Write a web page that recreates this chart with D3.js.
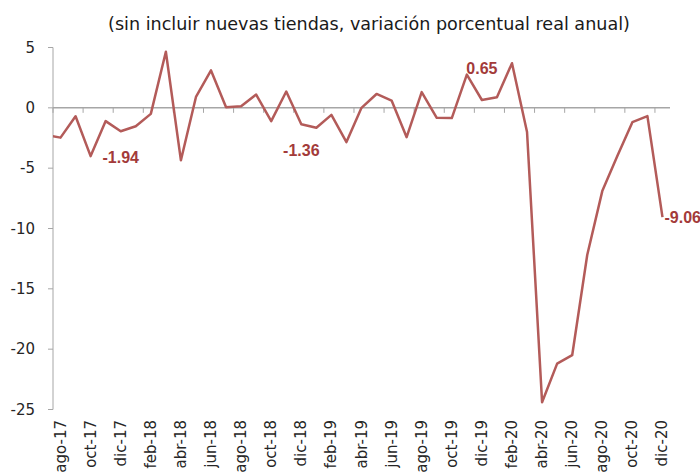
<!DOCTYPE html>
<html>
<head>
<meta charset="utf-8">
<script src="https://cdn.jsdelivr.net/npm/d3@7"></script>
<style>
  body { margin: 0; background: #fff; }
  svg { display: block; }
  text { font-family: "DejaVu Sans", sans-serif; }
</style>
</head>
<body>
<svg id="chart" width="700" height="476"></svg>
<script>
// data: monthly values, jul-17 .. dic-20 (jul-17 sits left of the axis and gets clipped)
const months = [
  "jul-17", "ago-17", "sep-17", "oct-17", "nov-17", "dic-17",
  "ene-18", "feb-18", "mar-18", "abr-18", "may-18", "jun-18",
  "jul-18", "ago-18", "sep-18", "oct-18", "nov-18", "dic-18",
  "ene-19", "feb-19", "mar-19", "abr-19", "may-19", "jun-19",
  "jul-19", "ago-19", "sep-19", "oct-19", "nov-19", "dic-19",
  "ene-20", "feb-20", "mar-20", "abr-20", "may-20", "jun-20",
  "jul-20", "ago-20", "sep-20", "oct-20", "nov-20", "dic-20"
];
const values = [
  -2.25, -2.47, -0.70, -4.00, -1.10, -1.94,
  -1.53, -0.50, 4.65, -4.35, 0.90, 3.10,
  0.05, 0.13, 1.10, -1.10, 1.35, -1.36,
  -1.65, -0.58, -2.84, 0.00, 1.15, 0.60,
  -2.43, 1.30, -0.83, -0.85, 2.75, 0.65,
  0.87, 3.70, -2.00, -24.40, -21.20, -20.50,
  -12.20, -6.90, -4.00, -1.19, -0.69, -9.06
];
const xTickLabels = [
  "ago-17", "oct-17", "dic-17", "feb-18", "abr-18", "jun-18", "ago-18",
  "oct-18", "dic-18", "feb-19", "abr-19", "jun-19", "ago-19", "oct-19",
  "dic-19", "feb-20", "abr-20", "jun-20", "ago-20", "oct-20", "dic-20"
];
const yTicks = [5, 0, -5, -10, -15, -20, -25];
const labelled = ["dic-17", "dic-18", "dic-19", "dic-20"];
const title = "(sin incluir nuevas tiendas, variación porcentual real anual)";

const svg = d3.select("#chart");
const lineColor = "#b35b59";
const labelColor = "#a33b3a";
const axisColor = "#a6a6a6";

// plot area
const plotLeft = 53, plotRight = 670, plotTop = 47.5, plotBottom = 409.5;
const firstCat = months.indexOf("ago-17");

const x = d3.scaleLinear()
  .domain([firstCat - 0.5, months.length - 0.5])
  .range([plotLeft, plotRight]);
const y = d3.scaleLinear().domain([-25, 5]).range([plotBottom, plotTop]);

// title, fitted to the width seen in the reference
const t = svg.append("text")
  .attr("x", 369)
  .attr("y", 30)
  .attr("text-anchor", "middle")
  .attr("fill", "#1a1a1a")
  .style("font-size", "17px")
  .text(title);
const tw = t.node().getComputedTextLength();
t.style("font-size", (17 * 522 / tw).toFixed(2) + "px");

// y axis
svg.append("line")
  .attr("x1", plotLeft).attr("x2", plotLeft)
  .attr("y1", y(5)).attr("y2", y(-25))
  .attr("stroke", axisColor).attr("stroke-width", 1);
yTicks.forEach(v => {
  svg.append("line")
    .attr("x1", plotLeft - 5).attr("x2", plotLeft)
    .attr("y1", y(v)).attr("y2", y(v))
    .attr("stroke", axisColor).attr("stroke-width", 1);
  svg.append("text")
    .attr("x", 35)
    .attr("y", y(v))
    .attr("text-anchor", "end")
    .attr("dominant-baseline", "central")
    .attr("fill", "#262626")
    .style("font-size", "15px")
    .text(v);
});

// x axis along zero, ticks every two months at category boundaries
svg.append("line")
  .attr("x1", plotLeft).attr("x2", plotRight)
  .attr("y1", y(0)).attr("y2", y(0))
  .attr("stroke", axisColor).attr("stroke-width", 1.5);
for (let i = firstCat; i <= months.length; i += 2) {
  svg.append("line")
    .attr("x1", x(i - 0.5)).attr("x2", x(i - 0.5))
    .attr("y1", y(0)).attr("y2", y(0) + 5)
    .attr("stroke", axisColor).attr("stroke-width", 1);
}
xTickLabels.forEach(lbl => {
  const cx = x(months.indexOf(lbl));
  svg.append("text")
    .attr("transform", `translate(${cx},420) rotate(-90)`)
    .attr("text-anchor", "end")
    .attr("dominant-baseline", "central")
    .attr("fill", "#262626")
    .style("font-size", "15px")
    .text(lbl);
});

// line, clipped at the y axis
svg.append("clipPath").attr("id", "plot")
  .append("rect")
  .attr("x", plotLeft).attr("y", 0)
  .attr("width", 700 - plotLeft).attr("height", 476);

const line = d3.line()
  .x((d, i) => x(i))
  .y(d => y(d));

svg.append("path")
  .datum(values)
  .attr("clip-path", "url(#plot)")
  .attr("fill", "none")
  .attr("stroke", lineColor)
  .attr("stroke-width", 2.5)
  .attr("stroke-linejoin", "round")
  .attr("d", line);

// data labels
labelled.forEach((m, k) => {
  const i = months.indexOf(m);
  const v = values[i];
  let lx = x(i), ly = y(v), anchor = "middle";
  if (k === 2) {
    ly -= 31;
  } else if (k === 3) {
    lx += 2; anchor = "start";
  } else {
    ly += 26;
  }
  svg.append("text")
    .attr("x", lx)
    .attr("y", ly)
    .attr("text-anchor", anchor)
    .attr("dominant-baseline", "central")
    .attr("fill", labelColor)
    .style("font-family", "'Liberation Sans', Arial, sans-serif")
    .style("font-size", "16px")
    .style("font-weight", "bold")
    .text(v.toFixed(2));
});
</script>
</body>
</html>
